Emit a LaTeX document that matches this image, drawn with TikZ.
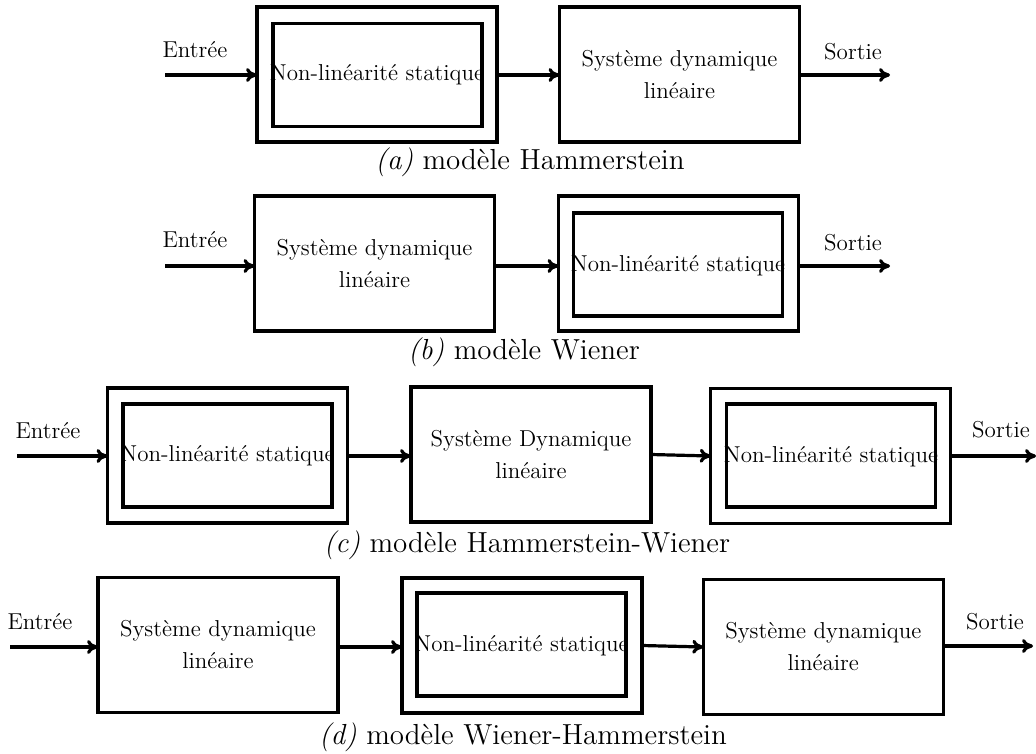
\documentclass[tikz,border=0pt]{standalone}
\usetikzlibrary{arrows.meta}
\begin{document}
\begin{tikzpicture}[x=0.5pt,y=-0.5pt,
  lbl/.style={font=\fontsize{11.5}{16}\selectfont, inner sep=0pt},
  captxt/.style={font=\fontsize{14.5}{17}\selectfont, inner sep=0pt},
  blk/.style={draw, line width=1.6pt, inner sep=0pt, outer sep=0pt,
    minimum width=120pt, minimum height=67.5pt, align=center,
    font=\fontsize{11.5}{16}\selectfont},
  nlin/.style={draw, line width=1.6pt, inner sep=0pt, outer sep=0pt,
    minimum width=104.5pt, minimum height=51.5pt},
  arr/.style={line width=1.6pt, -{To[length=5.5pt,width=7pt]}}
]
\useasboundingbox (0,0) rectangle (1036,753);

% ---------- (a) Hammerstein ----------
\node[blk] (A1) at (377,74.5) {};
\node[nlin] (A1i) at (377.5,75) {};
\node[lbl] (A1t) at (377,75) {Non-linéarité statique};
\node[blk] (A2) at (679.5,74.5) {Système dynamique\\linéaire};
\coordinate (Ain) at (165,75);
\coordinate (Aout) at (890,75);
\node[lbl] (Ae) at (195,50) {Entrée};
\node[lbl] (As) at (853,52) {Sortie};
\draw[arr] (Ain) -- (A1.west |- Ain);
\draw[arr] (A1.east |- Ain) -- (A2.west |- Ain);
\draw[arr] (A2.east |- Aout) -- (Aout);
\node[captxt] (Acap) at (530,162) {\textit{(a)} modèle Hammerstein};

% ---------- (b) Wiener ----------
\node[blk] (B1) at (374.5,263.5) {Système dynamique\\linéaire};
\node[blk] (B2) at (678.5,263.5) {};
\node[nlin] (B2i) at (678,264.5) {};
\node[lbl] (B2t) at (678,266) {Non-linéarité statique};
\coordinate (Bin) at (165,266);
\coordinate (Bout) at (890,266);
\node[lbl] (Be) at (195,240) {Entrée};
\node[lbl] (Bs) at (853,243) {Sortie};
\draw[arr] (Bin) -- (B1.west |- Bin);
\draw[arr] (B1.east |- Bin) -- (B2.west |- Bin);
\draw[arr] (B2.east |- Bout) -- (Bout);
\node[captxt] (Bcap) at (524,352) {\textit{(b)} modèle Wiener};

% ---------- (c) Hammerstein-Wiener ----------
\node[blk] (C1) at (227.5,455.5) {};
\node[nlin] (C1i) at (227.5,455.5) {};
\node[lbl] (C1t) at (227.5,456) {Non-linéarité statique};
\node[blk] (C2) at (531,454.5) {Système Dynamique\\linéaire};
\node[blk] (C3) at (830.75,456) {};
\node[nlin] (C3i) at (830.75,455.5) {};
\node[lbl] (C3t) at (831,457) {Non-linéarité statique};
\coordinate (Cin) at (17,456);
\coordinate (Cout) at (1036,456);
\node[lbl] (Ce) at (48,431) {Entrée};
\node[lbl] (Cs) at (1001,430) {Sortie};
\draw[arr] (Cin) -- (C1.west |- Cin);
\draw[arr] (C1.east |- Cin) -- (C2.west |- Cin);
\draw[arr] (C2.east) -- (C3.west);
\draw[arr] (C3.east |- Cout) -- (Cout);
\node[captxt] (Ccap) at (527,545) {\textit{(c)} modèle Hammerstein-Wiener};

% ---------- (d) Wiener-Hammerstein ----------
\node[blk] (D1) at (218,645) {Système dynamique\\linéaire};
\node[blk] (D2) at (522,645.5) {};
\node[nlin] (D2i) at (521.5,644.5) {};
\node[lbl] (D2t) at (521.5,646) {Non-linéarité statique};
\node[blk] (D3) at (823.3,647) {Système dynamique\\linéaire};
\coordinate (Din) at (10,647);
\coordinate (Dout) at (1033,646);
\node[lbl] (De) at (40,622) {Entrée};
\node[lbl] (Ds) at (995,622) {Sortie};
\draw[arr] (Din) -- (D1.west |- Din);
\draw[arr] (D1.east |- Din) -- (D2.west |- Din);
\draw[arr] (D2.east) -- (D3.west);
\draw[arr] (D3.east |- Dout) -- (Dout);
\node[captxt] (Dcap) at (523,737) {\textit{(d)} modèle Wiener-Hammerstein};
\end{tikzpicture}
\end{document}
